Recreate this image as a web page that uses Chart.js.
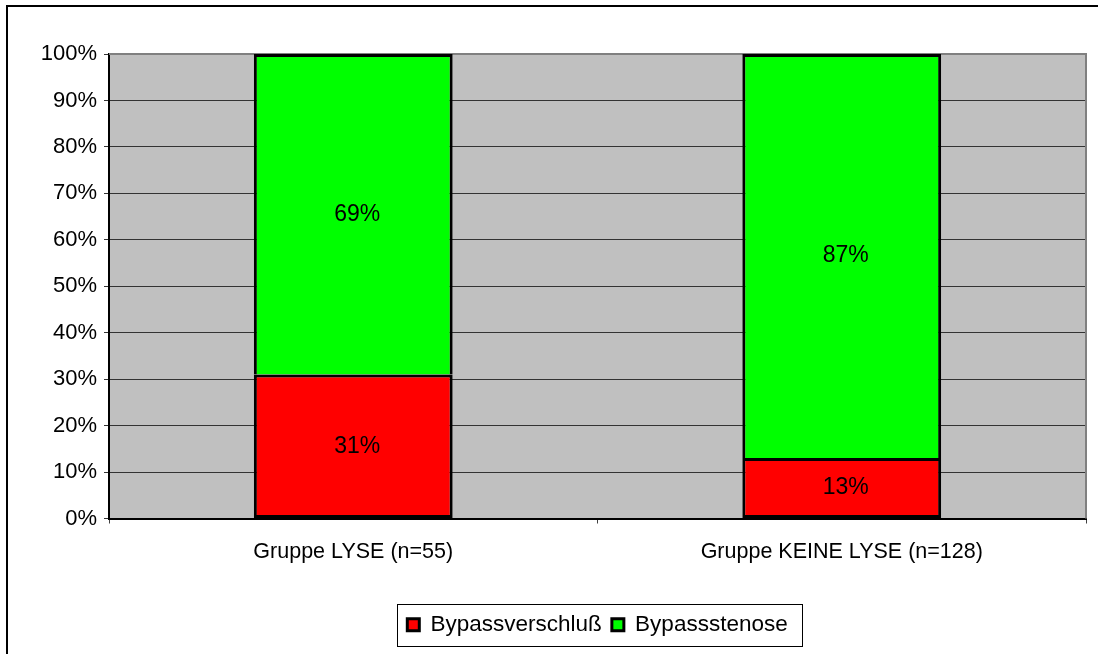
<!DOCTYPE html>
<html>
<head>
<meta charset="utf-8">
<script src="https://cdn.jsdelivr.net/npm/chart.js@4/dist/chart.umd.min.js"></script>
<style>
  html, body { margin: 0; padding: 0; background: #ffffff; }
  #wrap { width: 1098px; height: 654px; position: relative; }
</style>
</head>
<body>
<div id="wrap"><canvas id="c" width="1098" height="654"></canvas></div>
<script>
const categories = ['Gruppe LYSE (n=55)', 'Gruppe KEINE LYSE (n=128)'];
const verschlussValues = [31, 13];
const stenoseValues = [69, 87];
const seriesNames = ['Bypassverschluß', 'Bypassstenose'];
const yTicks = [0, 10, 20, 30, 40, 50, 60, 70, 80, 90, 100];

const FONT = "'Liberation Sans', Arial, sans-serif";

const decorPlugin = {
  id: 'decor',
  beforeDraw(chart) {
    const { ctx, chartArea: a } = chart;
    ctx.save();
    ctx.fillStyle = '#ffffff';
    ctx.fillRect(0, 0, chart.width, chart.height);
    ctx.fillStyle = '#C0C0C0';
    ctx.fillRect(a.left, a.top, a.right - a.left, a.bottom - a.top);
    ctx.strokeStyle = '#000000';
    ctx.lineWidth = 2;
    ctx.beginPath();
    ctx.moveTo(7, chart.height);
    ctx.lineTo(7, 6);
    ctx.lineTo(chart.width, 6);
    ctx.stroke();
    ctx.restore();
  },
  beforeDatasetsDraw(chart) {
    const { ctx, chartArea: a } = chart;
    ctx.save();
    ctx.strokeStyle = '#808080';
    ctx.lineWidth = 2;
    ctx.beginPath();
    ctx.moveTo(a.left, a.top);
    ctx.lineTo(a.right, a.top);
    ctx.lineTo(a.right, a.bottom);
    ctx.stroke();
    ctx.restore();
  },
  afterDatasetsDraw(chart) {
    const { ctx } = chart;
    ctx.save();
    ctx.font = '23px ' + FONT;
    ctx.fillStyle = '#000000';
    ctx.textAlign = 'center';
    ctx.textBaseline = 'middle';
    chart.data.datasets.forEach((ds, di) => {
      const meta = chart.getDatasetMeta(di);
      meta.data.forEach((bar, i) => {
        const p = bar.getProps(['x', 'y', 'base'], true);
        ctx.fillText(ds.data[i] + '%', p.x + 4, (p.y + p.base) / 2);
      });
    });
    ctx.restore();
  },
  afterDraw(chart) {
    const lg = chart.legend;
    if (!lg || !lg.legendHitBoxes || !lg.legendHitBoxes.length) return;
    const hb = lg.legendHitBoxes;
    const first = hb[0], last = hb[hb.length - 1];
    const { ctx } = chart;
    ctx.save();
    ctx.strokeStyle = '#000000';
    ctx.lineWidth = 1;
    const l = Math.round(first.left - 10) + 0.5;
    const r = Math.round(last.left + last.width + 14) + 0.5;
    const t = Math.round(lg.top) + 0.5;
    const b = Math.round(lg.bottom) + 0.5;
    ctx.strokeRect(l, t, r - l, b - t);
    ctx.restore();
  }
};

new Chart(document.getElementById('c'), {
  type: 'bar',
  data: {
    labels: categories,
    datasets: [
      {
        label: seriesNames[0],
        data: verschlussValues,
        backgroundColor: '#FF0000',
        borderColor: '#000000',
        borderWidth: 3,
        borderSkipped: false,
        categoryPercentage: 1,
        barPercentage: 0.407
      },
      {
        label: seriesNames[1],
        data: stenoseValues,
        backgroundColor: '#00FF00',
        borderColor: '#000000',
        borderWidth: 3,
        borderSkipped: 'start',
        categoryPercentage: 1,
        barPercentage: 0.407
      }
    ]
  },
  options: {
    responsive: false,
    animation: false,
    devicePixelRatio: 1,
    layout: { padding: { top: 54, right: 12, bottom: 8, left: 0 } },
    plugins: {
      legend: {
        position: 'bottom',
        fullSize: false,
        labels: {
          font: { family: FONT, size: 22.5 },
          color: '#000000',
          boxWidth: 12,
          boxHeight: 12,
          padding: 10
        }
      },
      tooltip: { enabled: false },
      title: { display: false }
    },
    scales: {
      x: {
        stacked: true,
        grid: {
          offset: true,
          drawOnChartArea: false,
          drawTicks: true,
          tickLength: 5,
          color: '#404040',
          lineWidth: 1
        },
        border: { display: true, color: '#000000', width: 2 },
        ticks: {
          font: { family: FONT, size: 21.5 },
          color: '#000000',
          padding: 16,
          maxRotation: 0
        },
        afterFit(scale) { scale.height = 85; }
      },
      y: {
        stacked: true,
        min: 0,
        max: 100,
        afterBuildTicks(scale) { scale.ticks = yTicks.map(v => ({ value: v })); },
        grid: {
          color: '#333333',
          lineWidth: 1,
          drawTicks: true,
          tickLength: 5
        },
        border: { display: true, color: '#000000', width: 2 },
        ticks: {
          font: { family: FONT, size: 22 },
          color: '#000000',
          padding: 7,
          callback: (v) => v + '%'
        },
        afterFit(scale) { scale.width = 109; }
      }
    }
  },
  plugins: [decorPlugin]
});
</script>
</body>
</html>
